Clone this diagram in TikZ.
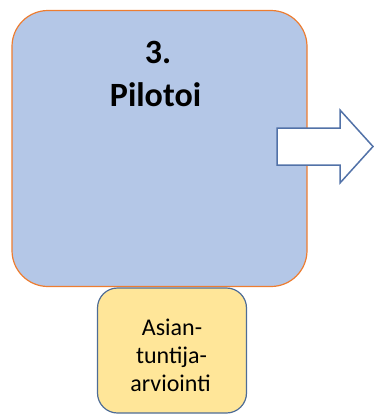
\documentclass[tikz,border=0pt]{standalone}
\usepackage{fontspec}
\setmainfont{Carlito}
\begin{document}
\begin{tikzpicture}[x=1pt,y=-1pt,
  stagebox/.style={draw=orangeline, fill=stageblue, line width=1.2pt,
    rounded corners=36pt, minimum width=295pt, minimum height=276pt, inner sep=0pt},
  notebox/.style={draw=noteline, fill=noteyellow, line width=1.2pt,
    rounded corners=20pt, minimum width=149pt, minimum height=125pt, inner sep=0pt},
  flowarrow/.style={draw=arrowline, fill=white, line width=1.5pt, line join=miter},
  titletext/.style={font=\bfseries\fontsize{34}{43}\selectfont, anchor=base, inner sep=0pt},
  notetext/.style={font=\fontsize{24}{28}\selectfont, anchor=base, inner sep=0pt}]
\definecolor{stageblue}{HTML}{B4C7E7}
\definecolor{orangeline}{HTML}{ED7D31}
\definecolor{noteyellow}{HTML}{FFE699}
\definecolor{noteline}{HTML}{4E6C96}
\definecolor{arrowline}{HTML}{5272A8}
\useasboundingbox (0,0) rectangle (374,416);

% main stage card
\node[stagebox] (stage) at (159.5,148.5) {};
\node[titletext] (num) at (158,63) {3.};
\node[titletext] (title) at (155.5,106) {Pilotoi};

% outline arrow pointing to the next stage
\coordinate (a1) at (277,128);
\coordinate (a2) at (340,128);
\coordinate (a3) at (340,110);
\coordinate (tip) at (373,146.5);
\coordinate (a5) at (340,183);
\coordinate (a6) at (340,165);
\coordinate (a7) at (277,165);
\draw[flowarrow] (a1) -- (a2) -- (a3) -- (tip) -- (a5) -- (a6) -- (a7) -- cycle;

% expert evaluation note
\node[notebox] (note) at (172,350.5) {};
\node[notetext] (l1) at (172,335) {Asian-};
\node[notetext] (l2) at (171.5,363) {tuntija-};
\node[notetext] (l3) at (170.5,391) {arviointi};
\end{tikzpicture}
\end{document}
